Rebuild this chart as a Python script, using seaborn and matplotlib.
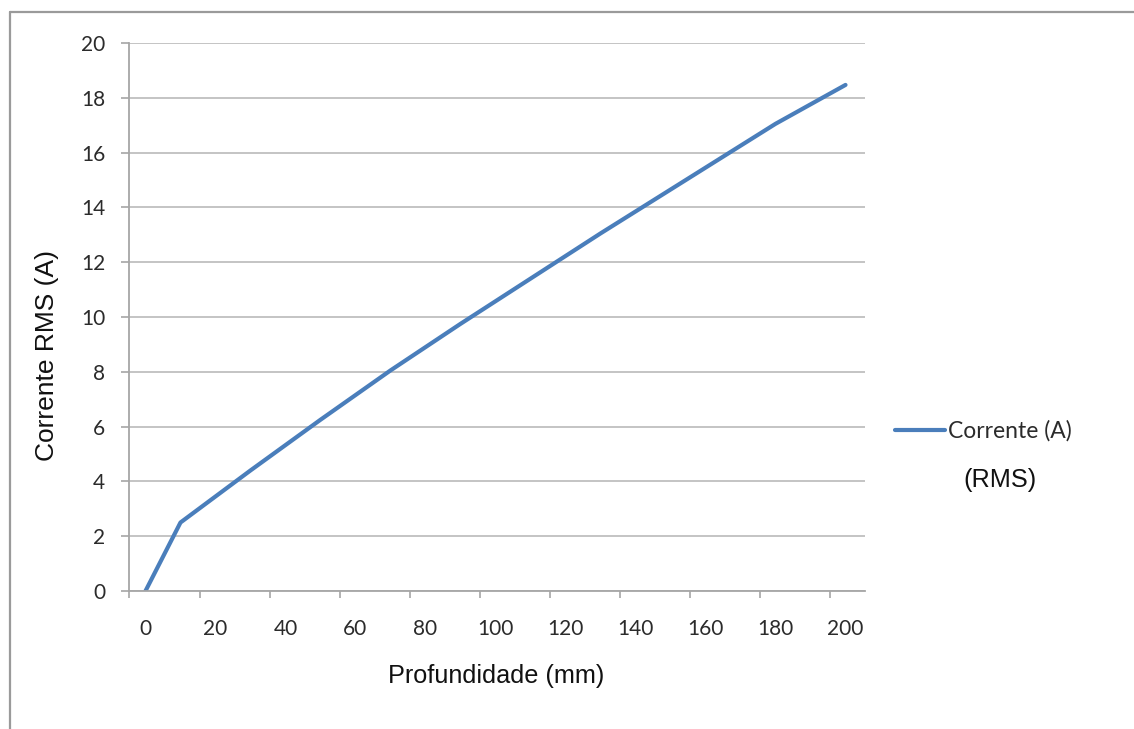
import matplotlib
matplotlib.use("Agg")
import matplotlib.pyplot as plt
from matplotlib.lines import Line2D
import seaborn as sns
import pandas as pd
import numpy as np

# Data
profundidade = [0, 10, 30, 50, 70, 90, 110, 130, 145, 165, 180, 200]
corrente = [0.0, 2.5, 4.4, 6.25, 8.05, 9.75, 11.4, 13.05, 14.25, 15.85, 17.05, 18.47]
x_tick_labels = [0, 20, 40, 60, 80, 100, 120, 140, 160, 180, 200]
y_tick_labels = [0, 2, 4, 6, 8, 10, 12, 14, 16, 18, 20]
series_label = "Corrente (A)"

df = pd.DataFrame({"Profundidade": profundidade, "Corrente": corrente})

sns.set_theme(style="white")
plt.rcParams["font.family"] = ["Lato", "DejaVu Sans"]

W, H = 1134, 729
fig = plt.figure(figsize=(W / 100, H / 100), dpi=100)
ax = fig.add_axes([129 / W, 1 - 591 / H, (865 - 129) / W, (591 - 43) / H])

blue = "#4a7ebb"
grid_c = "#c4c4c4"
axis_c = "#a6a6a6"

sns.lineplot(data=df, x="Profundidade", y="Corrente", ax=ax, color=blue,
             linewidth=3.0, label=series_label, solid_capstyle="round",
             solid_joinstyle="round")

ax.set_xlim(-4.71, 205.57)
ax.set_ylim(0, 20)

# y axis
ax.set_yticks(y_tick_labels)
ax.set_yticklabels([str(v) for v in y_tick_labels])
ax.yaxis.grid(True, color=grid_c, linewidth=1.4)
ax.set_axisbelow(True)
ax.tick_params(axis="y", which="major", direction="out", length=6, width=1.2,
               color=axis_c, pad=11, labelsize=15, labelcolor="#2b2b2b", left=True)

# x axis: labels at data positions, tick marks between
ax.set_xticks(x_tick_labels)
ax.set_xticklabels([str(v) for v in x_tick_labels])
ax.set_xticks([-4.71] + [15.5 + 20 * k for k in range(10)], minor=True)
ax.tick_params(axis="x", which="major", length=0, pad=20.5, labelsize=15,
               labelcolor="#2b2b2b", bottom=True)
ax.tick_params(axis="x", which="minor", direction="out", length=5, width=1.2,
               color=axis_c, bottom=True)
ax.xaxis.grid(False)

for s in ["top", "right"]:
    ax.spines[s].set_visible(False)
for s in ["left", "bottom"]:
    ax.spines[s].set_visible(True)
    ax.spines[s].set_color(axis_c)
    ax.spines[s].set_linewidth(1.3)

ax.set_xlabel("")
ax.set_ylabel("")

arial = ["Liberation Sans", "DejaVu Sans"]
fig.text(496 / W, 1 - 676 / H, "Profundidade (mm)", ha="center", va="center",
         fontsize=18.2, family=arial, color="#111111")
fig.text(47 / W, 1 - 356 / H, "Corrente RMS (A)", ha="center", va="center",
         rotation=90, fontsize=19, family=arial, color="#111111")

# legend
leg = ax.legend(loc="center left", bbox_to_anchor=(895 / W, 1 - 431 / H),
                bbox_transform=fig.transFigure, frameon=False, borderpad=0,
                borderaxespad=0, handlelength=2.2, handletextpad=0.12,
                fontsize=16.5)
for t in leg.get_texts():
    t.set_color("#2b2b2b")
fig.text(1000 / W, 1 - 480 / H, "(RMS)", ha="center", va="center",
         fontsize=18.2, family=arial, color="#111111")

# outer chart frame (top and left edges visible)
fig.add_artist(Line2D([10 / W, 1.0], [1 - 12 / H, 1 - 12 / H],
                      transform=fig.transFigure, color="#9a9a9a", linewidth=1.6))
fig.add_artist(Line2D([10 / W, 10 / W], [1 - 12 / H, 0.0],
                      transform=fig.transFigure, color="#9a9a9a", linewidth=1.6))

fig.savefig("out.png", dpi=100)
